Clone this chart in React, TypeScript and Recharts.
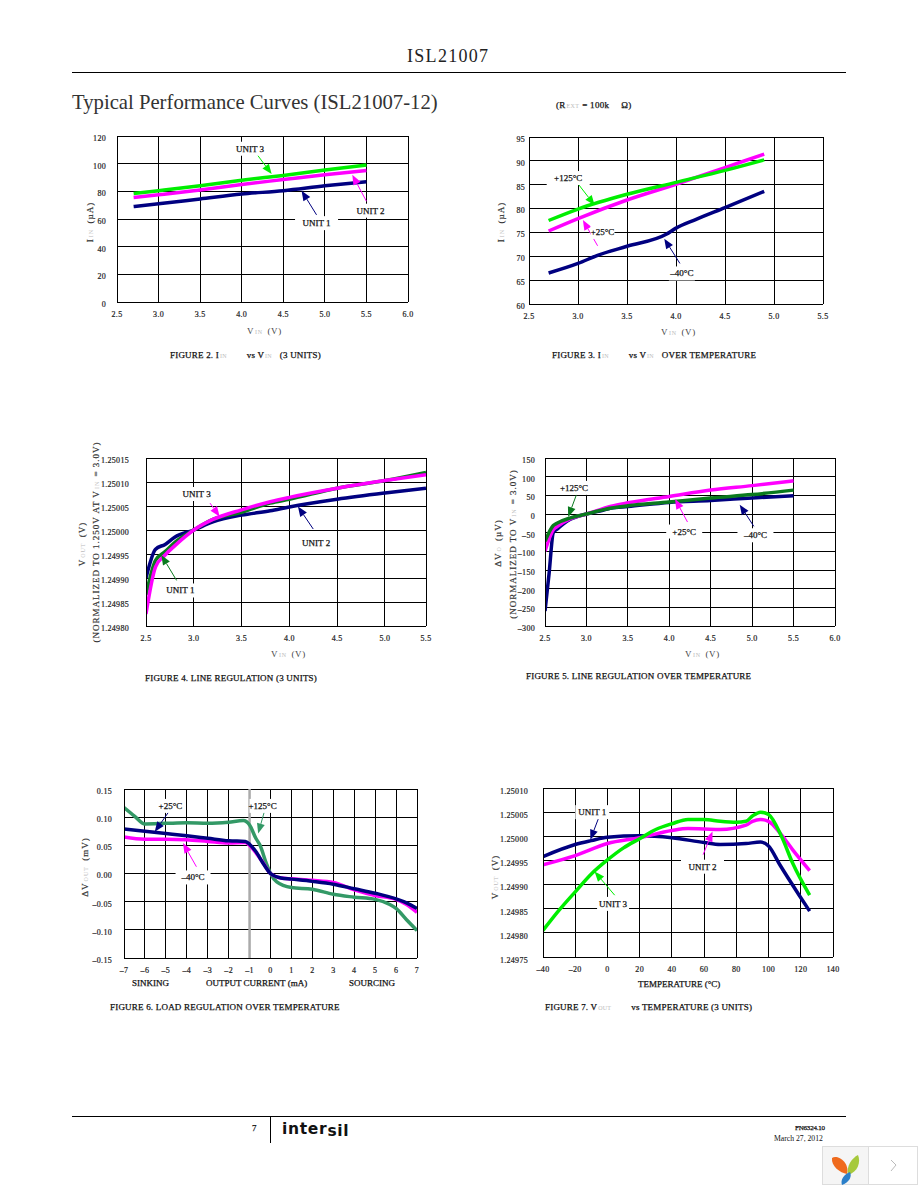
import React from 'react'
import { LineChart, Line, XAxis, YAxis, CartesianGrid, ReferenceLine, ReferenceDot } from 'recharts'

const NAVY = '#000080'
const MAGENTA = '#ff00ff'
const LIME = '#00ee00'
const DARK_GREEN = '#0a7a1e'
const SEA_GREEN = '#339966'
const SERIF = '"Liberation Serif", serif'

// figure 2
const fig2Volts = [2.7, 3.0, 3.5, 4.0, 4.5, 5.0, 5.5]
const fig2Unit1 = [69, 71, 74.5, 78, 80.5, 84, 87]
const fig2Unit2 = [75.5, 77.5, 81, 85, 88.5, 92, 95]
const fig2Unit3 = [78.5, 80.5, 84, 88, 91.5, 95.5, 99]
const fig2XTicks = [2.5, 3, 3.5, 4, 4.5, 5, 5.5, 6]
const fig2YTicks = [0, 20, 40, 60, 80, 100, 120]

// figure 3
const fig3VoltsCold = [2.7, 3.0, 3.2, 3.5, 3.9, 4.0, 4.2, 4.5, 4.9]
const fig3Cold = [66.5, 68.5, 70.2, 72.1, 74.6, 75.9, 77.7, 80.2, 83.6]
const fig3Volts = [2.7, 3.0, 3.5, 4.0, 4.5, 4.9]
const fig3Room = [75.3, 77.9, 81.8, 85.1, 88.6, 91.4]
const fig3Hot = [77.5, 79.9, 83, 85.5, 88, 90.2]
const fig3XTicks = [2.5, 3, 3.5, 4, 4.5, 5, 5.5]
const fig3YTicks = [60, 65, 70, 75, 80, 85, 90, 95]

// figure 4
const fig4Volts = [2.5, 2.6, 2.7, 2.8, 3.0, 3.2, 3.5, 3.8, 4.0, 4.5, 5.0, 5.43]
const fig4Unit1 = [1.249865, 1.249937, 1.249955, 1.249974, 1.25, 1.250022, 1.250037, 1.250056, 1.250064, 1.250087, 1.250103, 1.25012]
const fig4Unit2 = [1.2499, 1.24996, 1.24997, 1.249985, 1.25, 1.250017, 1.250031, 1.25004, 1.250048, 1.250064, 1.250077, 1.250087]
const fig4Unit3 = [1.249825, 1.249923, 1.249948, 1.249967, 1.25, 1.250022, 1.250042, 1.250059, 1.250068, 1.250087, 1.250103, 1.250115]
const fig4XTicks = [2.5, 3, 3.5, 4, 4.5, 5, 5.43]
const fig4YTicks = [1.2498, 1.24985, 1.2499, 1.24995, 1.25, 1.25005, 1.2501, 1.25015]

// figure 5
const fig5VoltsCold = [2.5, 2.55, 2.6, 2.65, 2.8, 3.0, 3.2, 3.3, 3.5, 4.0, 4.5, 5.0, 5.5]
const fig5Cold = [-260, -158, -50, -40, -15, 0, 10, 16, 20, 31, 36, 43, 49]
const fig5Volts = [2.5, 2.6, 2.65, 2.8, 3.0, 3.3, 3.5, 4.0, 4.5, 5.0, 5.5]
const fig5Room = [-100, -42, -33, -13, 0, 21, 30, 47, 64, 76, 89]
const fig5Hot = [-73, -31, -24, -11, 0, 16, 22, 32, 43, 52, 64]
const fig5XTicks = [2.5, 3, 3.5, 4, 4.5, 5, 5.5, 6]
const fig5YTicks = [-300, -250, -200, -150, -100, -50, 0, 50, 100, 150]

// figure 6
const fig6Amps = [-7, -6, -5, -4, -3, -2, -1.2, -1, -0.7, -0.3, 0, 0.5, 1, 2, 3, 4, 5, 6, 6.5, 7]
const fig6Room = [0.079, 0.075, 0.071, 0.067, 0.0625, 0.058, 0.057, 0.052, 0.039, 0.015, 0, -0.008, -0.01, -0.014, -0.019, -0.027, -0.035, -0.045, -0.052, -0.062]
const fig6Cold = [0.065, 0.061, 0.061, 0.06, 0.057, 0.054, 0.055, 0.05, 0.037, 0.016, 0, -0.008, -0.0095, -0.012, -0.016, -0.029, -0.039, -0.046, -0.055, -0.069]
const fig6AmpsHot = [-7, -6.5, -6, -5, -4, -3, -2, -1.3, -1, -0.7, -0.5, -0.2, 0, 0.3, 1, 2, 3, 4, 5, 5.7, 6, 6.5, 7]
const fig6Hot = [0.117, 0.102, 0.088, 0.089, 0.09, 0.089, 0.091, 0.094, 0.086, 0.0625, 0.05, 0.018, 0, -0.015, -0.025, -0.028, -0.037, -0.042, -0.046, -0.055, -0.062, -0.082, -0.101]
const fig6XTicks = [-7, -6, -5, -4, -3, -2, -1, 0, 1, 2, 3, 4, 5, 6, 7]
const fig6YTicks = [-0.15, -0.1, -0.05, 0, 0.05, 0.1, 0.15]

// figure 7
const fig7Temp1 = [-40, -20, -10, 0, 20, 40, 60, 70, 86, 95, 100, 107, 119, 125.5]
const fig7Unit1 = [1.249958, 1.249983, 1.249991, 1.249998, 1.250001, 1.249997, 1.249987, 1.249983, 1.249985, 1.249988, 1.24998, 1.249941, 1.249878, 1.249845]
const fig7Temp2 = [-40, -20, 0, 20, 40, 50, 60, 70, 86, 90, 95, 100, 108, 115, 125.5]
const fig7Unit2 = [1.249941, 1.24996, 1.249985, 1.249997, 1.250012, 1.250016, 1.250015, 1.250014, 1.250023, 1.250031, 1.250035, 1.250031, 1.250003, 1.249972, 1.249929]
const fig7Temp3 = [-40, -30, -20, -10, 0, 10, 20, 30, 40, 50, 60, 70, 80, 86, 90, 95, 100, 108, 115, 125.5]
const fig7Unit3 = [1.249805, 1.249847, 1.249885, 1.249922, 1.249951, 1.249976, 1.249995, 1.250014, 1.250026, 1.250035, 1.250035, 1.250031, 1.250029, 1.250031, 1.250042, 1.25005, 1.250045, 1.25, 1.249944, 1.249878]
const fig7XTicks = [-40, -20, 0, 20, 40, 60, 80, 100, 120, 140]
const fig7YTicks = [1.24975, 1.2498, 1.24985, 1.2499, 1.24995, 1.25, 1.25005, 1.2501]

const pts = (xs: number[], ys: number[]) => xs.map((x, i) => ({ x, y: ys[i] }))
const dash = (s: string) => s.replace('-', '\u2013')

type Series = { xs: number[]; ys: number[]; color: string; width?: number }
// [x1, y1, x2, y2, color] in data units, head on the second point
type Arrow = [number, number, number, number, string]
// [x, y, text, box width in px]
type Note = [number, number, string, number]

function ArrowShape(props: any) {
  const { x1, y1, x2, y2, stroke } = props
  const a = Math.atan2(y2 - y1, x2 - x1)
  const len = 10
  const w = 4
  const bx = x2 - len * Math.cos(a)
  const by = y2 - len * Math.sin(a)
  const nx = -Math.sin(a) * w
  const ny = Math.cos(a) * w
  return (
    <g>
      <line x1={x1} y1={y1} x2={bx} y2={by} stroke={stroke} strokeWidth={1} />
      <polygon points={`${x2},${y2} ${bx + nx},${by + ny} ${bx - nx},${by - ny}`} fill={stroke} />
    </g>
  )
}

function NoteShape(props: any) {
  const { cx, cy, text, boxWidth } = props
  return (
    <g>
      <rect x={cx - boxWidth / 2} y={cy - 7} width={boxWidth} height={14} fill="#fff" />
      <text x={cx} y={cy + 3} textAnchor="middle" fontFamily={SERIF} fontSize={9} stroke="#111" strokeWidth={0.25} fill="#111">
        {text}
      </text>
    </g>
  )
}

const tickStyle = { fontSize: 8, fontFamily: SERIF, fill: '#222', stroke: '#222', strokeWidth: 0.2, letterSpacing: 0.3 }

function Panel({ left, top, right, bottom, xDomain, yDomain, xTicks, yTicks, xFmt, yFmt, series, arrows, notes, marker, yGap = 11, yDy = 2 }: {
  left: number
  top: number
  right: number
  bottom: number
  xDomain: [number, number]
  yDomain: [number, number]
  xTicks: number[]
  yTicks: number[]
  xFmt: (v: number) => string
  yFmt: (v: number) => string
  series: Series[]
  arrows: Arrow[]
  notes: Note[]
  marker?: number
  yGap?: number
  yDy?: number
}) {
  const yAxisWidth = 60
  return (
    <div style={{ position: 'absolute', left: left - yAxisWidth, top: top - 10 }}>
      <LineChart
        width={right - left + yAxisWidth + 20}
        height={bottom - top + 10 + 30}
        margin={{ top: 10, right: 20, bottom: 0, left: 0 }}
      >
        <CartesianGrid stroke="#000" strokeWidth={1} shapeRendering="crispEdges" fill="#fff" />
        <XAxis
          type="number"
          dataKey="x"
          domain={xDomain}
          ticks={xTicks}
          interval={0}
          allowDataOverflow
          height={30}
          tick={tickStyle}
          tickFormatter={xFmt}
          tickLine={false}
          tickSize={7}
          tickMargin={2}
          axisLine={{ stroke: '#000', shapeRendering: 'crispEdges' }}
        />
        <YAxis
          type="number"
          dataKey="y"
          domain={yDomain}
          ticks={yTicks}
          interval={0}
          allowDataOverflow
          width={yAxisWidth}
          tick={{ ...tickStyle, dy: yDy }}
          tickFormatter={yFmt}
          tickLine={false}
          tickSize={yGap}
          tickMargin={0}
          axisLine={{ stroke: '#000', shapeRendering: 'crispEdges' }}
        />
        {marker !== undefined && <ReferenceLine x={marker} stroke="#aaaaaa" strokeWidth={2.5} />}
        {series.map((s, i) => (
          <Line
            key={i}
            data={pts(s.xs, s.ys)}
            dataKey="y"
            type="monotone"
            stroke={s.color}
            strokeWidth={s.width ?? 3.5}
            dot={false}
            activeDot={false}
            isAnimationActive={false}
          />
        ))}
        {notes.map((n, i) => (
          <ReferenceDot
            key={i}
            x={n[0]}
            y={n[1]}
            r={1}
            ifOverflow="visible"
            shape={(p: any) => <NoteShape {...p} text={n[2]} boxWidth={n[3]} />}
          />
        ))}
        {arrows.map((a, i) => (
          <ReferenceLine
            key={i}
            segment={[{ x: a[0], y: a[1] }, { x: a[2], y: a[3] }]}
            stroke={a[4]}
            ifOverflow="visible"
            shape={(p: any) => <ArrowShape {...p} stroke={a[4]} />}
          />
        ))}
      </LineChart>
    </div>
  )
}

function Txt({ x, y, size = 9, heavy = true, color = '#111', spacing = 0, children }: {
  x: number
  y: number
  size?: number
  heavy?: boolean
  color?: string
  spacing?: number
  children: React.ReactNode
}) {
  return (
    <div style={{
      position: 'absolute', left: x, top: y, fontFamily: SERIF, fontSize: size, lineHeight: 1,
      color, whiteSpace: 'nowrap', transform: 'translateY(-50%)', letterSpacing: spacing,
      WebkitTextStroke: heavy ? '0.25px #111' : undefined,
    }}>
      {children}
    </div>
  )
}

function VTxt({ x, y, children }: { x: number; y: number; children: React.ReactNode }) {
  return (
    <div style={{
      position: 'absolute', left: x, top: y, fontFamily: SERIF, fontSize: 9, lineHeight: 1,
      color: '#333', whiteSpace: 'nowrap', letterSpacing: 1, WebkitTextStroke: '0.2px #333',
      transform: 'translate(-50%,-50%) rotate(-90deg)',
    }}>
      {children}
    </div>
  )
}

const Sub = ({ children, w = 6 }: { children: React.ReactNode; w?: number }) => (
  <span style={{ fontSize: 6, color: '#bbb', WebkitTextStroke: '0', margin: `0 ${w}px 0 1px` }}>{children}</span>
)

// browser-viewer overlay in the corner of the page
function Thumb() {
  return (
    <svg style={{ position: 'absolute', left: 822, top: 1146 }} width={96} height={40}>
      <rect x={0.5} y={0.5} width={46} height={38} fill="#f5f5f5" stroke="#ddd" />
      <rect x={46.5} y={0.5} width={49} height={38} fill="#fff" stroke="#ddd" />
      <path d="M10 12 C15 8 28 16 25 28 C18 27 9 20 10 12Z" fill="#ef6a1c" />
      <path d="M26 29 C24 20 30 12 36 9 C39 16 36 26 26 29Z" fill="#a6c93c" />
      <path d="M20 39 C18 34 22 28 28 26 C30 30 28 36 20 39Z" fill="#2b7fc9" />
      <path d="M69 14 L74 19 L69 25" fill="none" stroke="#bbb" strokeWidth={1} />
    </svg>
  )
}

const f1 = (v: number) => v.toFixed(1)

export default function App() {
  return (
    <div style={{ position: 'absolute', left: 0, top: 0, width: 918, height: 1188, background: '#fff', overflow: 'hidden' }}>
      <Txt x={407} y={56} size={18} heavy={false} color="#222" spacing={1.3}>ISL21007</Txt>
      <div style={{ position: 'absolute', left: 72, top: 72, width: 774, height: 1, background: '#000' }} />
      <Txt x={72} y={102} size={20.7} heavy={false} color="#333">Typical Performance Curves (ISL21007-12)</Txt>
      <Txt x={556} y={105} spacing={0.3}>(R<Sub w={3}>EXT</Sub>= 100k<span style={{ marginLeft: 12 }}>Ω)</span></Txt>

      <Panel left={117} top={136} right={408} bottom={302} xDomain={[2.5, 6]} yDomain={[0, 120]}
        xTicks={fig2XTicks} yTicks={fig2YTicks} xFmt={f1} yFmt={v => String(v)}
        series={[
          { xs: fig2Volts, ys: fig2Unit1, color: NAVY },
          { xs: fig2Volts, ys: fig2Unit3, color: LIME },
          { xs: fig2Volts, ys: fig2Unit2, color: MAGENTA },
        ]}
        arrows={[
          [4.18, 107, 4.36, 92.5, LIME],
          [4.9, 63, 4.72, 80.5, NAVY],
          [5.5, 72.8, 5.33, 92, MAGENTA],
        ]}
        notes={[
          [4.1, 110.8, 'UNIT 3', 30],
          [4.9, 57, 'UNIT 1', 43],
          [5.55, 66, 'UNIT 2', 30],
        ]}
      />
      <Txt x={247} y={331} heavy={false} color="#444" spacing={0.6}>V<Sub w={2}>IN</Sub> (V)</Txt>
      <VTxt x={90} y={222}>I<Sub w={2}>IN</Sub> (µA)</VTxt>
      <Txt x={170} y={355} spacing={0.2}>FIGURE 2. I<Sub w={20}>IN</Sub>vs V<Sub w={8}>IN</Sub>(3 UNITS)</Txt>

      <Panel left={529} top={137} right={823} bottom={304} xDomain={[2.5, 5.5]} yDomain={[60, 95]}
        xTicks={fig3XTicks} yTicks={fig3YTicks} xFmt={f1} yFmt={v => String(v)} yGap={4}
        series={[
          { xs: fig3VoltsCold, ys: fig3Cold, color: NAVY },
          { xs: fig3Volts, ys: fig3Room, color: MAGENTA },
          { xs: fig3Volts, ys: fig3Hot, color: LIME },
        ]}
        arrows={[
          [3.0, 85.2, 3.17, 80.7, LIME],
          [3.2, 72.2, 3.05, 77.6, MAGENTA],
          [4.04, 68.5, 3.88, 73.7, NAVY],
        ]}
        notes={[
          [2.9, 86.4, '+125°C', 43],
          [3.25, 75.1, '+25°C', 24],
          [4.06, 66.4, '\u201340°C', 26],
        ]}
      />
      <Txt x={661} y={332} heavy={false} color="#444" spacing={0.6}>V<Sub w={2}>IN</Sub> (V)</Txt>
      <VTxt x={501} y={222}>I<Sub w={2}>IN</Sub> (µA)</VTxt>
      <Txt x={552} y={355} spacing={0.2}>FIGURE 3. I<Sub w={20}>IN</Sub>vs V<Sub w={8}>IN</Sub>OVER TEMPERATURE</Txt>

      <Panel left={146} top={458} right={426} bottom={626} xDomain={[2.5, 5.43]} yDomain={[1.2498, 1.25015]}
        xTicks={fig4XTicks} yTicks={fig4YTicks} xFmt={v => (v > 5.4 ? '5.5' : f1(v))} yFmt={v => v.toFixed(5)} yGap={17}
        series={[
          { xs: fig4Volts, ys: fig4Unit2, color: NAVY },
          { xs: fig4Volts, ys: fig4Unit1, color: DARK_GREEN },
          { xs: fig4Volts, ys: fig4Unit3, color: MAGENTA },
        ]}
        arrows={[
          [3.17, 1.250056, 3.27, 1.250028, MAGENTA],
          [4.25, 1.250002, 4.09, 1.250049, NAVY],
          [2.82, 1.249895, 2.66, 1.249948, DARK_GREEN],
        ]}
        notes={[
          [3.03, 1.250075, 'UNIT 3', 30],
          [4.28, 1.249972, 'UNIT 2', 30],
          [2.86, 1.249874, 'UNIT 1', 34],
        ]}
      />
      <Txt x={271} y={654} heavy={false} color="#444" spacing={0.6}>V<Sub w={2}>IN</Sub> (V)</Txt>
      <VTxt x={82} y={544}>V<Sub w={2}>OUT</Sub> (V)</VTxt>
      <VTxt x={96} y={542}>(NORMALIZED TO 1.250V AT V<Sub w={1}>IN</Sub> = 3.0V)</VTxt>
      <Txt x={145} y={678} spacing={0.2}>FIGURE 4. LINE REGULATION (3 UNITS)</Txt>

      <Panel left={545} top={458} right={835} bottom={626} xDomain={[2.5, 6]} yDomain={[-300, 150]}
        xTicks={fig5XTicks} yTicks={fig5YTicks} xFmt={f1} yFmt={v => dash(String(v))} yGap={10}
        series={[
          { xs: fig5VoltsCold, ys: fig5Cold, color: NAVY },
          { xs: fig5Volts, ys: fig5Room, color: MAGENTA },
          { xs: fig5Volts, ys: fig5Hot, color: DARK_GREEN },
        ]}
        arrows={[
          [2.88, 52, 2.78, -8, DARK_GREEN],
          [4.22, -21.5, 4.07, 40, MAGENTA],
          [5.02, -33, 4.85, 25, NAVY],
        ]}
        notes={[
          [2.85, 70, '+125°C', 28],
          [4.18, -47, '+25°C', 36],
          [5.04, -57, '\u201340°C', 36],
        ]}
      />
      <Txt x={685} y={654} heavy={false} color="#444" spacing={0.6}>V<Sub w={2}>IN</Sub> (V)</Txt>
      <VTxt x={498} y={543}>ΔV<Sub w={2}>O</Sub> (µV)</VTxt>
      <VTxt x={513} y={544}>(NORMALIZED TO V<Sub w={1}>IN</Sub> = 3.0V)</VTxt>
      <Txt x={526} y={676} spacing={0.2}>FIGURE 5. LINE REGULATION OVER TEMPERATURE</Txt>

      <Panel left={124} top={789} right={417} bottom={958} xDomain={[-7, 7]} yDomain={[-0.15, 0.15]}
        xTicks={fig6XTicks} yTicks={fig6YTicks} xFmt={v => dash(String(v))} yFmt={v => dash(v.toFixed(2))} yGap={12}
        marker={-1}
        series={[
          { xs: fig6AmpsHot, ys: fig6Hot, color: SEA_GREEN },
          { xs: fig6Amps, ys: fig6Cold, color: MAGENTA },
          { xs: fig6Amps, ys: fig6Room, color: NAVY },
        ]}
        arrows={[
          [-4.74, 0.116, -5.53, 0.074, NAVY],
          [-0.27, 0.113, -0.59, 0.071, SEA_GREEN],
          [-3.54, 0.012, -4.18, 0.054, MAGENTA],
        ]}
        notes={[
          [-4.78, 0.12, '+25°C', 22],
          [-0.38, 0.12, '+125°C', 26],
          [-3.7, -0.007, '\u201340°C', 35],
        ]}
      />
      <VTxt x={85} y={867}>ΔV<Sub w={2}>OUT</Sub> (mV)</VTxt>
      <Txt x={132} y={983}>SINKING</Txt>
      <Txt x={206} y={983}>OUTPUT CURRENT (mA)</Txt>
      <Txt x={349} y={983}>SOURCING</Txt>
      <Txt x={110} y={1007} spacing={0.2}>FIGURE 6. LOAD REGULATION OVER TEMPERATURE</Txt>

      <Panel left={543} top={788} right={833} bottom={957} xDomain={[-40, 140]} yDomain={[1.24975, 1.2501]}
        xTicks={fig7XTicks} yTicks={fig7YTicks} xFmt={v => dash(String(v))} yFmt={v => v.toFixed(5)} yGap={15} yDy={3}
        series={[
          { xs: fig7Temp1, ys: fig7Unit1, color: NAVY },
          { xs: fig7Temp2, ys: fig7Unit2, color: MAGENTA },
          { xs: fig7Temp3, ys: fig7Unit3, color: LIME },
        ]}
        arrows={[
          [-5, 1.250042, -10.6, 1.249993, NAVY],
          [59.4, 1.249962, 65.2, 1.25001, MAGENTA],
          [4.5, 1.249878, -8, 1.249927, LIME],
        ]}
        notes={[
          [-9.4, 1.25005, 'UNIT 1', 34],
          [59, 1.249937, 'UNIT 2', 43],
          [3.5, 1.24986, 'UNIT 3', 32],
        ]}
      />
      <VTxt x={495} y={877}>V<Sub w={2}>OUT</Sub> (V)</VTxt>
      <Txt x={638} y={984}>TEMPERATURE (°C)</Txt>
      <Txt x={545} y={1007} spacing={0.2}>FIGURE 7. V<Sub w={20}>OUT</Sub>vs TEMPERATURE (3 UNITS)</Txt>

      <div style={{ position: 'absolute', left: 72, top: 1116, width: 774, height: 1, background: '#000' }} />
      <div style={{ position: 'absolute', left: 270, top: 1117, width: 1, height: 26, background: '#000' }} />
      <Txt x={252} y={1128}>7</Txt>
      <div style={{
        position: 'absolute', left: 282, top: 1122, fontFamily: '"DejaVu Sans", sans-serif', fontWeight: 700,
        fontSize: 15.5, lineHeight: 1, color: '#111', letterSpacing: 0.7, whiteSpace: 'nowrap',
      }}>
        inter<span style={{ position: 'relative', top: 2 }}>sil</span>
      </div>
      <Txt x={795} y={1128} size={7} spacing={-0.2}>FN6324.10</Txt>
      <Txt x={774} y={1139} size={7.7} heavy={false}>March 27, 2012</Txt>
      <Thumb />
    </div>
  )
}
